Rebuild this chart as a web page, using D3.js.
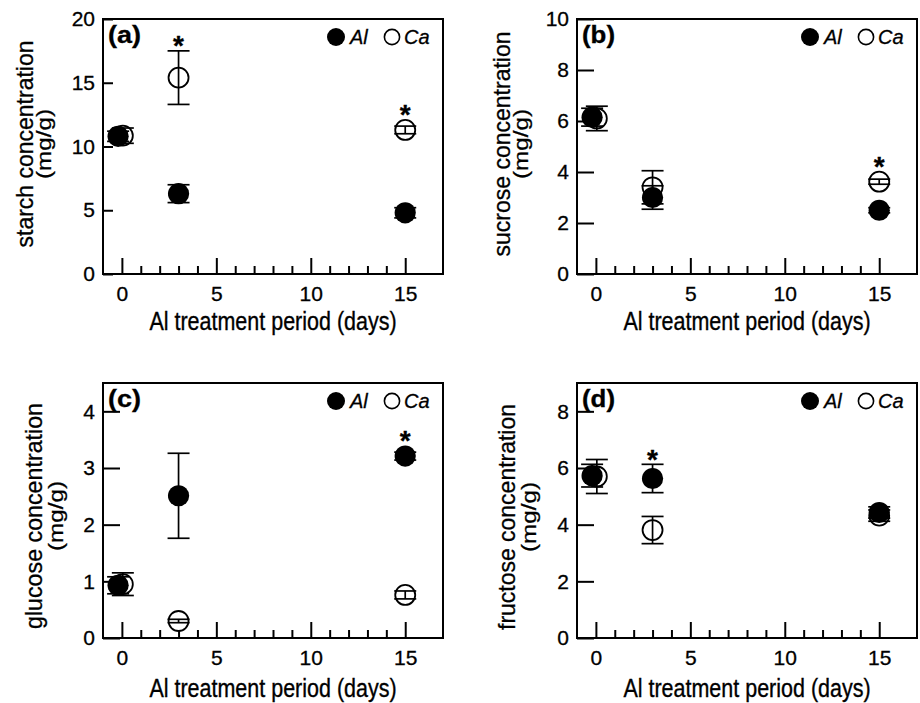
<!DOCTYPE html>
<html>
<head>
<meta charset="utf-8">
<script src="https://cdn.jsdelivr.net/npm/d3@7/dist/d3.min.js"></script>
<style>
  html, body { margin: 0; padding: 0; background: #fff; }
  svg text { font-family: "Liberation Sans", Arial, Helvetica, sans-serif; fill: #000; stroke: #000; stroke-width: 0.3px; }
</style>
</head>
<body>
<svg id="chart" width="920" height="703"></svg>
<script>
// ---------------- data ----------------
const dayTicks = [0, 5, 10, 15];
const dayMinorTicks = [1, 2, 3, 4, 6, 7, 8, 9, 11, 12, 13, 14];
// sampling days as plotted (Al point at day 0 is drawn slightly left in the original)
const alDays = [-0.2, 3, 15];
const caDays = [0.05, 3, 15];

const starchAl = [10.8, 6.3, 4.8];
const starchAlErr = [0.4, 0.7, 0.4];
const starchCa = [10.85, 15.4, 11.3];
const starchCaErr = [0.6, 2.1, 0.3];

const sucroseAl = [6.15, 3.0, 2.5];
const sucroseAlErr = [0.35, 0.46, 0.1];
const sucroseCa = [6.1, 3.4, 3.62];
const sucroseCaErr = [0.48, 0.65, 0.1];

const glucoseAl = [0.93, 2.51, 3.21];
const glucoseAlErr = [0.15, 0.75, 0.07];
const glucoseCa = [0.95, 0.3, 0.76];
const glucoseCaErr = [0.2, 0.03, 0.07];

const fructoseAl = [5.73, 5.63, 4.43];
const fructoseAlErr = [0.4, 0.5, 0.2];
const fructoseCa = [5.7, 3.81, 4.32];
const fructoseCaErr = [0.6, 0.48, 0.2];

// significance marks (index of sampling day)
const starchStars = [1, 2];
const sucroseStars = [2];
const glucoseStars = [2];
const fructoseStars = [1];

const starchTicks = [0, 5, 10, 15, 20];
const sucroseTicks = [0, 2, 4, 6, 8, 10];
const glucoseTicks = [0, 1, 2, 3, 4];
const fructoseTicks = [0, 2, 4, 6, 8];

const panelLabels = ["(a)", "(b)", "(c)", "(d)"];
const yTitles = ["starch concentration", "sucrose concentration", "glucose concentration", "fructose concentration"];
const yUnit = "(mg/g)";
const xTitle = "Al treatment period (days)";
const legendLabels = ["Al", "Ca"];

// ---------------- layout ----------------
const panels = [
  { label: panelLabels[0], title: yTitles[0], yMax: 20, yTicks: starchTicks, al: starchAl, alE: starchAlErr, ca: starchCa, caE: starchCaErr, stars: starchStars,
    x0: 103, y0: 19, yTickLen: 10, t1: 70.5, t2: 52, tc: 144, tl: 207, xtb: 56 },
  { label: panelLabels[1], title: yTitles[1], yMax: 10, yTicks: sucroseTicks, al: sucroseAl, alE: sucroseAlErr, ca: sucroseCa, caE: sucroseCaErr, stars: sucroseStars,
    x0: 577, y0: 19, yTickLen: 17, t1: 67, t2: 49, tc: 144, tl: 225, xtb: 56 },
  { label: panelLabels[2], title: yTitles[2], yMax: 4.5, yTicks: glucoseTicks, al: glucoseAl, alE: glucoseAlErr, ca: glucoseCa, caE: glucoseCaErr, stars: glucoseStars,
    x0: 103, y0: 383, yTickLen: 17, t1: 61, t2: 40, tc: 516, tl: 226, xtb: 59 },
  { label: panelLabels[3], title: yTitles[3], yMax: 9, yTicks: fructoseTicks, al: fructoseAl, alE: fructoseAlErr, ca: fructoseCa, caE: fructoseCaErr, stars: fructoseStars,
    x0: 577, y0: 383, yTickLen: 17, t1: 62, t2: 41, tc: 517, tl: 226, xtb: 59 }
];
const PW = 340, PH = 255;
const R = 10, CAP = 11;
const TICKFONT = 21;

const svg = d3.select("#chart");

panels.forEach(p => {
  const g = svg.append("g").attr("transform", `translate(${p.x0},${p.y0})`);
  const x = d3.scaleLinear().domain([-1, 17]).range([0, PW]);
  const y = d3.scaleLinear().domain([0, p.yMax]).range([PH, 0]);

  // y axis (inward ticks)
  const yAx = g.append("g").call(
    d3.axisLeft(y).tickValues(p.yTicks).tickSize(-p.yTickLen).tickPadding(8).tickFormat(d3.format("d"))
  );
  yAx.select(".domain").remove();
  yAx.selectAll("line").attr("stroke", "#000").attr("stroke-width", 2);
  yAx.selectAll("text").attr("font-size", TICKFONT).style("font-family", '"Liberation Sans", Arial, sans-serif');

  // x axis major
  const xAx = g.append("g").attr("transform", `translate(0,${PH})`).call(
    d3.axisBottom(x).tickValues(dayTicks).tickSize(-16).tickPadding(12.5).tickFormat(d3.format("d"))
  );
  xAx.select(".domain").remove();
  xAx.selectAll("line").attr("stroke", "#000").attr("stroke-width", 2);
  xAx.selectAll("text").attr("font-size", TICKFONT).style("font-family", '"Liberation Sans", Arial, sans-serif');
  // x axis minor
  const xMin = g.append("g").attr("transform", `translate(0,${PH})`).call(
    d3.axisBottom(x).tickValues(dayMinorTicks).tickSize(-8).tickFormat("")
  );
  xMin.select(".domain").remove();
  xMin.selectAll("line").attr("stroke", "#000").attr("stroke-width", 2);

  // frame
  g.append("rect").attr("x", 0).attr("y", 0).attr("width", PW).attr("height", PH)
    .attr("fill", "none").attr("stroke", "#000").attr("stroke-width", 2);

  // markers: Ca (open) then Al (filled)
  const caPts = p.ca.map((v, i) => ({ d: caDays[i], v, e: p.caE[i] }));
  const alPts = p.al.map((v, i) => ({ d: alDays[i], v, e: p.alE[i] }));

  g.selectAll(".ca").data(caPts).enter().append("circle")
    .attr("cx", d => x(d.d)).attr("cy", d => y(d.v)).attr("r", R)
    .attr("fill", "#fff").attr("stroke", "#000").attr("stroke-width", 1.8);
  g.selectAll(".al").data(alPts).enter().append("circle")
    .attr("cx", d => x(d.d)).attr("cy", d => y(d.v)).attr("r", R + 0.6)
    .attr("fill", "#000");

  // error bars
  const eb = caPts.concat(alPts);
  const ebG = g.append("g").attr("stroke", "#000").attr("stroke-width", 1.7).attr("fill", "none");
  eb.forEach(d => {
    const cx = x(d.d), yt = y(d.v + d.e), yb = y(d.v - d.e);
    ebG.append("line").attr("x1", cx).attr("x2", cx).attr("y1", yt).attr("y2", yb);
    ebG.append("line").attr("x1", cx - CAP).attr("x2", cx + CAP).attr("y1", yt).attr("y2", yt);
    ebG.append("line").attr("x1", cx - CAP).attr("x2", cx + CAP).attr("y1", yb).attr("y2", yb);
  });

  // asterisks
  p.stars.forEach(i => {
    const top = Math.min(y(p.al[i] + p.alE[i]), y(p.al[i]) - R, y(p.ca[i] + p.caE[i]), y(p.ca[i]) - R);
    const cy = top - 12;
    g.append("text").attr("x", x(caDays[i])).attr("y", cy + 0.58 * 28)
      .attr("text-anchor", "middle").attr("font-size", 28).attr("font-weight", "bold").text("*");
  });

  // panel label
  g.append("text").attr("x", 5).attr("y", 24).attr("font-size", 23).attr("font-weight", "bold")
    .attr("textLength", 33).attr("lengthAdjust", "spacingAndGlyphs").text(p.label);

  // legend
  g.append("circle").attr("cx", PW - 107).attr("cy", 18).attr("r", 9).attr("fill", "#000");
  g.append("text").attr("x", PW - 93).attr("y", 24.5).attr("font-size", 20).attr("font-style", "italic").text(legendLabels[0]);
  g.append("circle").attr("cx", PW - 51).attr("cy", 18).attr("r", 7.6).attr("fill", "#fff").attr("stroke", "#000").attr("stroke-width", 1.6);
  g.append("text").attr("x", PW - 39).attr("y", 24.5).attr("font-size", 20).attr("font-style", "italic").text(legendLabels[1]);

  // x title
  svg.append("text").attr("text-anchor", "middle").attr("font-size", 21.5)
    .attr("transform", `translate(${p.x0 + PW / 2},${p.y0 + PH + p.xtb}) scale(1,1.2)`)
    .text(xTitle);

  // y title
  svg.append("text").attr("text-anchor", "middle").attr("font-size", 24)
    .attr("textLength", p.tl).attr("lengthAdjust", "spacingAndGlyphs")
    .attr("transform", `translate(${p.x0 - p.t1},${p.tc}) rotate(-90)`)
    .text(p.title);
  svg.append("text").attr("text-anchor", "middle").attr("font-size", 23)
    .attr("textLength", 70).attr("lengthAdjust", "spacingAndGlyphs")
    .attr("transform", `translate(${p.x0 - p.t2},${p.tc}) rotate(-90) scale(1,0.85)`)
    .text(yUnit);
});
</script>
</body>
</html>
